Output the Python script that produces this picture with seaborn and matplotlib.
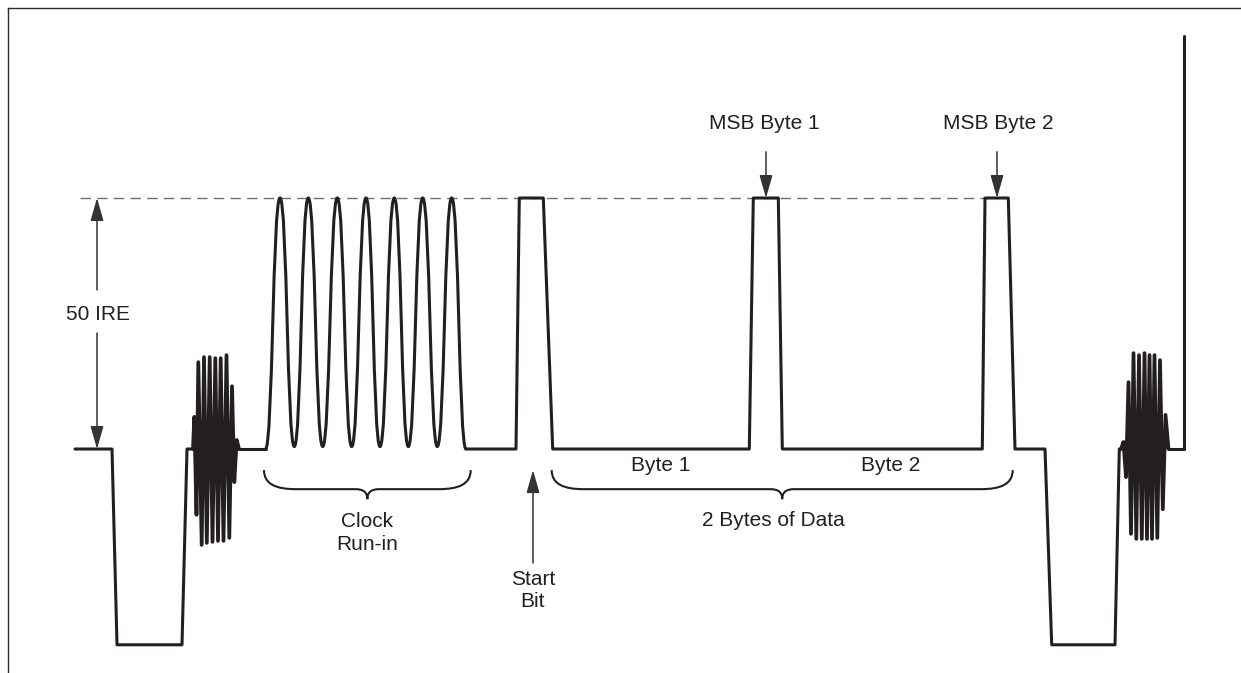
import matplotlib
matplotlib.use("Agg")
import matplotlib.pyplot as plt
from matplotlib.path import Path
from matplotlib.patches import PathPatch
import seaborn as sns

# --- waveform data: x = position along the line, y = level in IRE ---
# front porch, sync pulse, back porch
front_t = [75, 112, 117, 182, 187, 193]
front_ire = [0, 0, -39, -39, 0, 0]

# colour burst (peaks)
burst1_t = [193, 194.3, 196.5, 198.3, 201.7, 204, 206.8, 209.7, 212.5, 215.3, 218,
            220.7, 223.5, 226.5, 229.3, 232, 234.3, 236.7, 239]
burst1_ire = [0, 6.4, -13.1, 17.3, -19.1, 18.3, -18.7, 18.3, -18.5, 18.1, -18.3,
              18.1, -18.3, 18.7, -17.7, 12.5, -6.6, 1.8, 0]

# back porch up to the clock run-in
porch_t = [239, 265.5]
porch_ire = [0, 0]

# clock run-in: extremes of the 7 cycles
runin_t = [265.5, 280, 294.3, 308.3, 322.7, 337.3, 351.7, 366, 380, 394.3,
           408.3, 422.7, 437.3, 451.7, 466]
runin_ire = [0, 50, 0.5, 50, 0.5, 50, 0.5, 50, 0.5, 50, 0.5, 50, 0.5, 50, 0]

# start bit, byte 1, byte 2, next sync pulse
data_t = [466, 516, 519.3, 543.3, 552.7, 749.3, 753.3, 778.3, 782.3, 982.3,
          985, 1008.3, 1015, 1045, 1051.7, 1115, 1119.3, 1121]
data_ire = [0, 0, 50, 50, 0, 0, 50, 50, 0, 0, 50, 50, 0, 0, -39, -39, 0, 0]

burst2_t = [1121, 1123.5, 1126, 1128.5, 1131, 1133.5, 1136.3, 1139, 1141.8, 1144.5,
            1147, 1149.5, 1152, 1154.5, 1157.3, 1160, 1162.8, 1165.5, 1168.5]
burst2_ire = [0, 1.4, -5.6, 13.3, -16.9, 19.1, -17.9, 18.7, -17.9, 19.1, -17.9,
              18.7, -17.9, 18.7, -17.7, 17.7, -12, 6.8, 0]

# start of active video
tail_t = [1168.5, 1184, 1184]
tail_ire = [0, 0, 82.3]

REF_LEVEL = 50  # dashed 50 IRE reference

INK = "#231f20"
GREY = "#6d6e71"

sns.set_theme(style="white")
plt.rcParams["font.family"] = ["Liberation Sans", "DejaVu Sans"]

fig = plt.figure(figsize=(12.41, 6.73), dpi=100)
ax = fig.add_axes([8 / 1241, 0, 1 - 8 / 1241, 1 - 8 / 673])
ax.set_xlim(8, 1241)
ax.set_ylim(-44.62, 87.85)

# dashed reference line
ax.plot([80, 985], [REF_LEVEL, REF_LEVEL], color=GREY, lw=1.0,
        ls=(0, (7.5, 4.5)), zorder=1)

# straight parts of the waveform
for xs, ys, w in [(front_t, front_ire, 2.2), (burst1_t, burst1_ire, 2.7),
                  (porch_t, porch_ire, 2.2), (data_t, data_ire, 2.2),
                  (burst2_t, burst2_ire, 2.7), (tail_t, tail_ire, 2.2)]:
    sns.lineplot(x=xs, y=ys, sort=False, estimator=None, color=INK, lw=w,
                 ax=ax, zorder=3)

# clock run-in drawn as smooth bezier arcs between its extremes
k = 0.5
verts = [(runin_t[0], runin_ire[0])]
codes = [Path.MOVETO]
for i in range(len(runin_t) - 1):
    t0, t1 = runin_t[i], runin_t[i + 1]
    v0, v1 = runin_ire[i], runin_ire[i + 1]
    dt = t1 - t0
    verts += [(t0 + k * dt, v0), (t1 - k * dt, v1), (t1, v1)]
    codes += [Path.CURVE4] * 3
ax.add_patch(PathPatch(Path(verts, codes), facecolor="none", edgecolor=INK,
                       lw=2.2, zorder=3))


def brace(x0, x1, y_top=-4.2, y_mid=-8.0, y_tip=-10.0):
    xc = (x0 + x1) / 2
    v = [(x0, y_top), (x0, -7.0), (x0 + 12, y_mid), (x0 + 32, y_mid),
         (xc - 12, y_mid), (xc - 4, y_mid), (xc, y_mid - 0.6), (xc, y_tip),
         (xc, y_mid - 0.6), (xc + 4, y_mid), (xc + 12, y_mid),
         (x1 - 32, y_mid), (x1 - 12, y_mid), (x1, -7.0), (x1, y_top)]
    c = [Path.MOVETO, Path.CURVE4, Path.CURVE4, Path.CURVE4,
         Path.LINETO, Path.CURVE4, Path.CURVE4, Path.CURVE4,
         Path.CURVE4, Path.CURVE4, Path.CURVE4,
         Path.LINETO, Path.CURVE4, Path.CURVE4, Path.CURVE4]
    ax.add_patch(PathPatch(Path(v, c), facecolor="none", edgecolor=INK,
                           lw=1.5, zorder=3))


brace(264, 470.7)
brace(551.7, 1012.7)


def arrow(x, y_from, y_to):
    ax.annotate("", xy=(x, y_to), xytext=(x, y_from),
                arrowprops=dict(arrowstyle="-|>,head_length=0.7,head_width=0.2",
                                color="#333333", lw=1.1, shrinkA=0, shrinkB=0,
                                mutation_scale=20), zorder=4)


arrow(97, 31.7, 50)
arrow(97, 23.1, 0)
arrow(766, 59.2, 50)
arrow(997, 59.2, 50)
arrow(533, -22.7, -4.2)

fs = 15
ax.text(98, 26.7, "50 IRE", ha="center", va="center", fontsize=fs, color=INK)
ax.text(764, 64.9, "MSB Byte 1", ha="center", va="center", fontsize=fs, color=INK)
ax.text(998, 64.9, "MSB Byte 2", ha="center", va="center", fontsize=fs, color=INK)
ax.text(661, -3.2, "Byte 1", ha="center", va="center", fontsize=fs, color=INK)
ax.text(891, -3.2, "Byte 2", ha="center", va="center", fontsize=fs, color=INK)
ax.text(773, -14.3, "2 Bytes of Data", ha="center", va="center", fontsize=fs, color=INK)
ax.text(367, -16.8, "Clock\nRun-in", ha="center", va="center", fontsize=fs,
        color=INK, linespacing=1.25)
ax.text(533, -28.2, "Start\nBit", ha="center", va="center", fontsize=fs,
        color=INK, linespacing=1.25)

ax.set_xticks([])
ax.set_yticks([])
ax.set(xlabel="", ylabel="")
for side in ["right", "bottom"]:
    ax.spines[side].set_visible(False)
for side in ["left", "top"]:
    ax.spines[side].set_color("#2b2b2b")
    ax.spines[side].set_linewidth(1.0)

fig.savefig("out.png", dpi=100)
